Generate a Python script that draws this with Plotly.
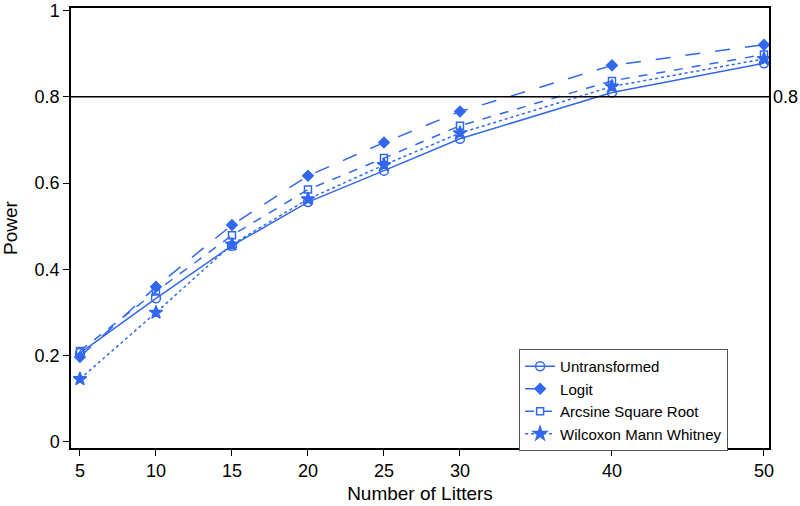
import plotly.graph_objects as go

litters = [5, 10, 15, 20, 25, 30, 40, 50]
untransformed = [0.206, 0.333, 0.455, 0.556, 0.629, 0.703, 0.810, 0.878]
logit = [0.197, 0.360, 0.503, 0.617, 0.694, 0.766, 0.873, 0.921]
arcsine = [0.211, 0.349, 0.479, 0.585, 0.658, 0.733, 0.837, 0.898]
wilcoxon = [0.146, 0.300, 0.458, 0.563, 0.642, 0.716, 0.824, 0.888]

blue = "#3168ee"

fig = go.Figure()

series = [
    ("Untransformed", untransformed, "solid", "circle-open", 9),
    ("Logit", logit, "longdash", "diamond", 8),
    ("Arcsine Square Root", arcsine, "dash", "square-open", 7),
    ("Wilcoxon Mann Whitney", wilcoxon, "dot", "star", 10),
]
for name, vals, dash, sym, size in series:
    fig.add_trace(go.Scatter(
        x=litters, y=vals, name=name, mode="lines+markers",
        line=dict(color=blue, width=1.5, dash=dash),
        marker=dict(symbol=sym, size=size, color=blue,
                    line=dict(color=blue, width=1.5)),
    ))

# reference line at 0.8
fig.add_shape(type="line", xref="paper", yref="y",
              x0=0, x1=1, y0=0.8, y1=0.8,
              line=dict(color="black", width=1.5))
fig.add_annotation(xref="paper", yref="y", x=1, y=0.8, xshift=2,
                   text="0.8", showarrow=False, xanchor="left",
                   font=dict(size=18, color="black"))

fig.update_layout(
    width=800, height=506,
    margin=dict(l=71, r=31, t=8, b=58),
    paper_bgcolor="white", plot_bgcolor="white",
    font=dict(family="Liberation Sans, Arial, sans-serif", size=16, color="black"),
    legend=dict(x=0.642, y=0.225, xanchor="left", yanchor="top",
                bordercolor="#555", borderwidth=1, bgcolor="white",
                font=dict(size=15), tracegroupgap=0),
    showlegend=True,
)
fig.update_xaxes(range=[4.41, 50.33], tickvals=litters,
                 showgrid=False, zeroline=False, automargin=False,
                 showline=True, linecolor="black", linewidth=1.5, mirror=True,
                 ticks="outside", ticklen=6, tickcolor="black",
                 title=dict(text="Number of Litters", font=dict(size=19), standoff=6),
                 tickfont=dict(size=18))
fig.update_yaxes(range=[-0.014, 1.006], tickvals=[0, 0.2, 0.4, 0.6, 0.8, 1],
                 ticktext=["0", "0.2", "0.4", "0.6", "0.8", "1"],
                 showgrid=False, zeroline=False, automargin=False,
                 showline=True, linecolor="black", linewidth=1.5, mirror=True,
                 ticks="outside", ticklen=6, tickcolor="black",
                 ticklabeloverflow="allow",
                 title=dict(text="Power", font=dict(size=19), standoff=16),
                 tickfont=dict(size=18))

# drop the browser's default page margin so the figure sits at 0,0
fig.write_html("out.html", config={"displayModeBar": False},
               post_script="document.body.style.margin='0';")
